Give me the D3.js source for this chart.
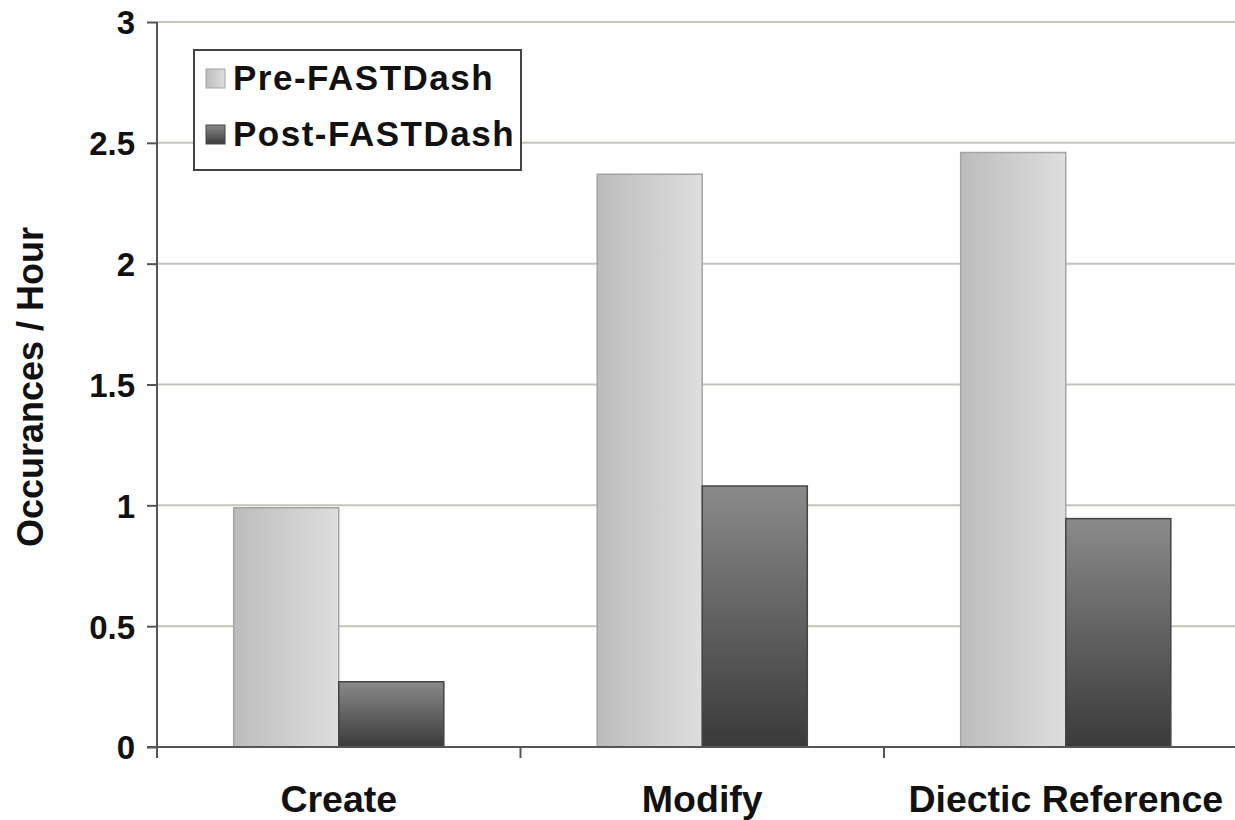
<!DOCTYPE html>
<html>
<head>
<meta charset="utf-8">
<script src="https://cdn.jsdelivr.net/npm/d3@7"></script>
<style>
  body { margin: 0; background: #fff; }
  text { font-family: "Liberation Sans", Arial, sans-serif; font-weight: bold; fill: #111; }
</style>
</head>
<body>
<div id="chart"></div>
<script>
(function() {
  var categories = ["Create", "Modify", "Diectic Reference"];
  var series = ["Pre-FASTDash", "Post-FASTDash"];
  var preValues = [0.99, 2.37, 2.46];
  var postValues = [0.27, 1.08, 0.945];
  var yTicks = [0, 0.5, 1, 1.5, 2, 2.5, 3];

  var width = 1235, height = 820;
  var margin = { top: 22, left: 157, bottom: 73 };
  var plotW = 363.5 * 3;
  var plotH = height - margin.top - margin.bottom;

  var svg = d3.select("#chart")
    .append("svg")
    .attr("width", width)
    .attr("height", height);

  var defs = svg.append("defs");
  var gPre = defs.append("linearGradient").attr("id", "gradPre")
    .attr("x1", "0%").attr("x2", "100%").attr("y1", "0%").attr("y2", "0%");
  gPre.append("stop").attr("offset", "0%").attr("stop-color", "#bcbcbc");
  gPre.append("stop").attr("offset", "100%").attr("stop-color", "#dedede");
  var gPost = defs.append("linearGradient").attr("id", "gradPost")
    .attr("x1", "0%").attr("x2", "0%").attr("y1", "0%").attr("y2", "100%");
  gPost.append("stop").attr("offset", "0%").attr("stop-color", "#8a8a8a");
  gPost.append("stop").attr("offset", "100%").attr("stop-color", "#3a3a3a");

  var g = svg.append("g")
    .attr("transform", "translate(" + margin.left + "," + margin.top + ")");

  var yScale = d3.scaleLinear().domain([0, 3]).range([plotH, 0]);
  var xScale = d3.scaleBand().domain(categories).range([0, plotW]).paddingInner(0).paddingOuter(0);
  var xInner = d3.scaleBand().domain(series).range([0, xScale.bandwidth()]).paddingOuter(0.73).paddingInner(0);

  // gridlines
  g.selectAll(".grid")
    .data(yTicks.filter(function(d) { return d > 0; }))
    .enter().append("line")
    .attr("x1", 0)
    .attr("x2", width - margin.left)
    .attr("y1", function(d) { return yScale(d); })
    .attr("y2", function(d) { return yScale(d); })
    .attr("stroke", "#c4c4bc")
    .attr("stroke-width", 2);

  var colors = { "Pre-FASTDash": "url(#gradPre)", "Post-FASTDash": "url(#gradPost)" };
  var strokes = { "Pre-FASTDash": "#a4a4a4", "Post-FASTDash": "#444" };

  var rows = categories.map(function(c, i) {
    return { cat: c, vals: [{ s: series[0], v: preValues[i] }, { s: series[1], v: postValues[i] }] };
  });

  var groups = g.selectAll(".cat")
    .data(rows)
    .enter().append("g")
    .attr("transform", function(d) { return "translate(" + xScale(d.cat) + ",0)"; });

  groups.selectAll("rect")
    .data(function(d) { return d.vals; })
    .enter().append("rect")
    .attr("x", function(d) { return xInner(d.s); })
    .attr("width", xInner.bandwidth())
    .attr("y", function(d) { return yScale(d.v); })
    .attr("height", function(d) { return plotH - yScale(d.v); })
    .attr("fill", function(d) { return colors[d.s]; })
    .attr("stroke", function(d) { return strokes[d.s]; })
    .attr("stroke-width", 1.5);

  // y axis
  var yAxis = d3.axisLeft(yScale).tickValues(yTicks).tickSize(10).tickPadding(12)
    .tickFormat(function(d) { return d; });
  var ya = g.append("g").call(yAxis);
  ya.select(".domain").attr("stroke", "#555").attr("stroke-width", 2).attr("d", "M0,0V" + (plotH + 11));
  ya.selectAll(".tick line").attr("stroke", "#555").attr("stroke-width", 2);
  ya.selectAll(".tick text").style("font-size", "33px").style("font-family", "Liberation Sans, Arial, sans-serif")
    .style("font-weight", "bold").attr("fill", "#111").attr("dy", "0.36em");

  // x axis
  var xa = g.append("g").attr("transform", "translate(0," + plotH + ")");
  xa.append("line")
    .attr("x1", -10).attr("x2", width - margin.left)
    .attr("stroke", "#555").attr("stroke-width", 2);
  xa.selectAll(".xtick")
    .data(categories)
    .enter().append("line")
    .attr("x1", function(d) { return xScale(d); })
    .attr("x2", function(d) { return xScale(d); })
    .attr("y1", 0).attr("y2", 11)
    .attr("stroke", "#555").attr("stroke-width", 2);
  xa.selectAll(".xlabel")
    .data(categories)
    .enter().append("text")
    .attr("x", function(d) { return xScale(d) + xScale.bandwidth() / 2; })
    .attr("y", 65)
    .attr("text-anchor", "middle")
    .attr("font-size", 37.5)
    .text(function(d) { return d; });

  // y title
  svg.append("text")
    .attr("transform", "translate(43,387) rotate(-90)")
    .attr("text-anchor", "middle")
    .attr("font-size", 36)
    .text("Occurances / Hour");

  // legend
  var legend = svg.append("g").attr("transform", "translate(194,50)");
  legend.append("rect")
    .attr("width", 327).attr("height", 120)
    .attr("fill", "#fff").attr("stroke", "#444").attr("stroke-width", 2);
  var li = legend.selectAll(".li")
    .data(series)
    .enter().append("g")
    .attr("transform", function(d, i) { return "translate(12," + (19 + i * 56) + ")"; });
  li.append("rect")
    .attr("width", 19).attr("height", 19)
    .attr("fill", function(d) { return colors[d]; })
    .attr("stroke", function(d) { return strokes[d]; });
  li.append("text")
    .attr("x", 27).attr("y", 21)
    .attr("font-size", 35)
    .attr("letter-spacing", 1.5)
    .text(function(d) { return d; });
})();
</script>
</body>
</html>
